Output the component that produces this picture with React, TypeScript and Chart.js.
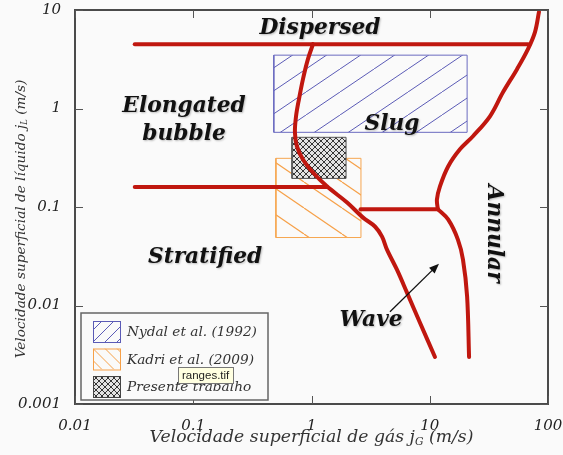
import { useEffect, useRef } from 'react';
import { Chart, registerables } from 'chart.js';

Chart.register(...registerables);

// ---- axis ticks ----
const X_TICKS = [0.01, 0.1, 1, 10, 100];
const X_TICK_LABELS = ['0.01', '0.1', '1', '10', '100'];
const Y_TICKS = [0.001, 0.01, 0.1, 1, 10];
const Y_TICK_LABELS = ['0.001', '0.01', '0.1', '1', '10'];

// ---- transition boundaries (jG, jL) ----
const DISPERSED_X = [0.032, 68];
const DISPERSED_Y = [4.5, 4.5];
const STRATIFIED_X = [0.032, 1.35];
const STRATIFIED_Y = [0.16, 0.16];
const WAVE_ANNULAR_X = [2.6, 11.7];
const WAVE_ANNULAR_Y = [0.095, 0.095];
const SLUG_CURVE_X = [1.03, 0.933, 0.847, 0.783, 0.74, 0.724, 0.753, 0.847, 1.03, 1.35, 2.0, 2.73, 3.44, 3.95, 4.35, 5.28, 6.42, 8.27, 11.07];
const SLUG_CURVE_Y = [4.5, 3.17, 1.99, 1.24, 0.834, 0.573, 0.413, 0.304, 0.224, 0.162, 0.111, 0.078, 0.0634, 0.05, 0.0369, 0.0231, 0.0135, 0.00667, 0.003];
const ANNULAR_UPPER_X = [83.9, 77.6, 67.7, 54.7, 41.6, 32.3, 23.2, 18.0, 14.3, 12.2, 11.5, 11.7];
const ANNULAR_UPPER_Y = [9.55, 5.97, 4.01, 2.51, 1.46, 0.834, 0.523, 0.385, 0.258, 0.162, 0.119, 0.095];
const ANNULAR_LOWER_X = [11.7, 14.3, 17.3, 19.1, 20.7, 21.5];
const ANNULAR_LOWER_Y = [0.095, 0.0747, 0.0467, 0.0292, 0.0123, 0.003];

// ---- experimental ranges [min, max] ----
const NYDAL_X = [0.48, 20.7];
const NYDAL_Y = [0.573, 3.48];
const KADRI_X = [0.5, 2.62];
const KADRI_Y = [0.049, 0.312];
const PRESENTE_X = [0.684, 1.96];
const PRESENTE_Y = [0.195, 0.51];

const LEGEND_LABELS = ['Nydal et al. (1992)', 'Kadri et al. (2009)', 'Presente trabalho'];

// ---- region labels ----
const REGION_LABELS = ['Dispersed', 'Elongated', 'bubble', 'Slug', 'Stratified', 'Wave', 'Annular'];
const REGION_X = [1.18, 0.0836, 0.0836, 4.8, 0.126, 3.19, 34.5];
const REGION_Y = [6.5, 1.05, 0.55, 0.69, 0.031, 0.007, 0.0537];
const REGION_ROT = [0, 0, 0, 0, 0, 0, 90];

const ARROW_X = [4.61, 11.97];
const ARROW_Y = [0.00863, 0.0266];

const X_TITLE = ['Velocidade superficial de gás j', 'G', ' (m/s)'];
const Y_TITLE = ['Velocidade superficial de líquido j', 'L', ' (m/s)'];

const RED = '#c0170f';
const SERIF = '"DejaVu Serif", serif';

function pts(xs: number[], ys: number[]) {
  return xs.map((x, i) => ({ x, y: ys[i] }));
}
function rectPts(xr: number[], yr: number[]) {
  return [
    { x: xr[0], y: yr[0] },
    { x: xr[1], y: yr[0] },
    { x: xr[1], y: yr[1] },
    { x: xr[0], y: yr[1] },
    { x: xr[0], y: yr[0] },
  ];
}

function makeHatch(w: number, h: number, color: string, lw: number, dir: 1 | -1) {
  const c = document.createElement('canvas');
  c.width = w;
  c.height = h;
  const g = c.getContext('2d')!;
  g.strokeStyle = color;
  g.lineWidth = lw;
  for (let k = -1; k <= 1; k++) {
    g.beginPath();
    if (dir === 1) {
      g.moveTo(k * w, h);
      g.lineTo(k * w + w, 0);
    } else {
      g.moveTo(k * w, 0);
      g.lineTo(k * w + w, h);
    }
    g.stroke();
  }
  return g.createPattern(c, 'repeat')!;
}

function makeCross() {
  const s = 6;
  const c = document.createElement('canvas');
  c.width = s;
  c.height = s;
  const g = c.getContext('2d')!;
  g.fillStyle = 'rgba(225,225,225,0.95)';
  g.fillRect(0, 0, s, s);
  g.strokeStyle = '#222';
  g.lineWidth = 0.9;
  for (let k = -1; k <= 1; k++) {
    g.beginPath();
    g.moveTo(k * s, s);
    g.lineTo(k * s + s, 0);
    g.stroke();
    g.beginPath();
    g.moveTo(k * s, 0);
    g.lineTo(k * s + s, s);
    g.stroke();
  }
  return g.createPattern(c, 'repeat')!;
}

function drawParts(ctx: CanvasRenderingContext2D, parts: string[], size: number, x: number, y: number) {
  const fMain = `italic ${size}px ${SERIF}`;
  const fSub = `italic ${size * 0.62}px ${SERIF}`;
  ctx.font = fMain;
  const w0 = ctx.measureText(parts[0]).width;
  const w2 = ctx.measureText(parts[2]).width;
  ctx.font = fSub;
  const w1 = ctx.measureText(parts[1]).width;
  const total = w0 + w1 + w2;
  let cx = x - total / 2;
  ctx.textAlign = 'left';
  ctx.textBaseline = 'alphabetic';
  ctx.font = fMain;
  ctx.fillText(parts[0], cx, y);
  cx += w0;
  ctx.font = fSub;
  ctx.fillText(parts[1], cx, y + size * 0.18);
  cx += w1;
  ctx.font = fMain;
  ctx.fillText(parts[2], cx, y);
}

function partsWidth(ctx: CanvasRenderingContext2D, parts: string[], size: number) {
  ctx.font = `italic ${size}px ${SERIF}`;
  const a = ctx.measureText(parts[0]).width + ctx.measureText(parts[2]).width;
  ctx.font = `italic ${size * 0.62}px ${SERIF}`;
  return a + ctx.measureText(parts[1]).width;
}

function zeroPad(s: any) {
  s.paddingTop = 0;
  s.paddingBottom = 0;
  s.paddingLeft = 0;
  s.paddingRight = 0;
}

export default function App() {
  const ref = useRef<HTMLCanvasElement>(null);

  useEffect(() => {
    const canvas = ref.current!;
    const bluePat = makeHatch(34, 23, '#5b5bb6', 1, 1);
    const orangePat = makeHatch(38, 26, '#f6a048', 1.2, -1);
    const crossPat = makeCross();

    const decor = {
      id: 'decor',
      beforeDraw(chart: any) {
        const { ctx, width, height } = chart;
        ctx.save();
        ctx.fillStyle = '#fafafa';
        ctx.fillRect(0, 0, width, height);
        ctx.restore();
      },
      afterDatasetsDraw(chart: any) {
        const ctx: CanvasRenderingContext2D = chart.ctx;
        const xs = chart.scales.x;
        const ys = chart.scales.y;
        const a = chart.chartArea;
        ctx.save();

        // arrow
        const ax0 = xs.getPixelForValue(ARROW_X[0]);
        const ay0 = ys.getPixelForValue(ARROW_Y[0]);
        const ax1 = xs.getPixelForValue(ARROW_X[1]);
        const ay1 = ys.getPixelForValue(ARROW_Y[1]);
        const ang = Math.atan2(ay1 - ay0, ax1 - ax0);
        ctx.strokeStyle = '#111';
        ctx.fillStyle = '#111';
        ctx.lineWidth = 1.3;
        ctx.beginPath();
        ctx.moveTo(ax0, ay0);
        ctx.lineTo(ax1 - 6 * Math.cos(ang), ay1 - 6 * Math.sin(ang));
        ctx.stroke();
        ctx.beginPath();
        ctx.moveTo(ax1, ay1);
        ctx.lineTo(ax1 - 10 * Math.cos(ang) + 4 * Math.sin(ang), ay1 - 10 * Math.sin(ang) - 4 * Math.cos(ang));
        ctx.lineTo(ax1 - 10 * Math.cos(ang) - 4 * Math.sin(ang), ay1 - 10 * Math.sin(ang) + 4 * Math.cos(ang));
        ctx.closePath();
        ctx.fill();

        // region labels
        ctx.font = `italic bold 20px ${SERIF}`;
        const fit = (20 * 121) / ctx.measureText(REGION_LABELS[0]).width;
        ctx.font = `italic bold ${fit}px ${SERIF}`;
        ctx.fillStyle = '#111';
        ctx.textAlign = 'center';
        ctx.textBaseline = 'middle';
        ctx.shadowColor = 'rgba(0,0,0,0.25)';
        ctx.shadowBlur = 2;
        ctx.shadowOffsetX = 1;
        ctx.shadowOffsetY = 1;
        REGION_LABELS.forEach((t, i) => {
          const px = xs.getPixelForValue(REGION_X[i]);
          const py = ys.getPixelForValue(REGION_Y[i]);
          ctx.save();
          ctx.translate(px, py);
          ctx.rotate((REGION_ROT[i] * Math.PI) / 180);
          ctx.fillText(t, 0, 0);
          ctx.restore();
        });
        ctx.shadowColor = 'transparent';
        ctx.shadowBlur = 0;
        ctx.shadowOffsetX = 0;
        ctx.shadowOffsetY = 0;

        // frame
        ctx.strokeStyle = '#4a4a4a';
        ctx.lineWidth = 2;
        ctx.strokeRect(a.left, a.top, a.right - a.left, a.bottom - a.top);

        // inward ticks on all sides
        ctx.lineWidth = 1;
        ctx.strokeStyle = '#555';
        X_TICKS.forEach((v) => {
          const px = Math.round(xs.getPixelForValue(v)) + 0.5;
          ctx.beginPath();
          ctx.moveTo(px, a.bottom);
          ctx.lineTo(px, a.bottom - 8);
          ctx.moveTo(px, a.top);
          ctx.lineTo(px, a.top + 8);
          ctx.stroke();
        });
        Y_TICKS.forEach((v) => {
          const py = Math.round(ys.getPixelForValue(v)) + 0.5;
          ctx.beginPath();
          ctx.moveTo(a.left, py);
          ctx.lineTo(a.left + 8, py);
          ctx.moveTo(a.right, py);
          ctx.lineTo(a.right - 8, py);
          ctx.stroke();
        });

        // legend
        const bx = a.left + 6;
        const by = a.bottom - 91;
        const bw = 187;
        const bh = 87;
        ctx.fillStyle = '#fafafa';
        ctx.fillRect(bx, by, bw, bh);
        ctx.strokeStyle = '#666';
        ctx.lineWidth = 1.5;
        ctx.strokeRect(bx, by, bw, bh);
        ctx.font = `italic 13px ${SERIF}`;
        const lsize = (13 * 130) / ctx.measureText(LEGEND_LABELS[0]).width;
        const swCols = ['#5b5bb6', '#f6a048', '#444'];
        LEGEND_LABELS.forEach((t, i) => {
          const sx = bx + 12;
          const sy = by + 8 + i * 27.5;
          const sw = 27;
          const sh = 21;
          ctx.save();
          ctx.beginPath();
          ctx.rect(sx, sy, sw, sh);
          ctx.clip();
          if (i === 2) {
            ctx.fillStyle = crossPat;
            ctx.fillRect(sx, sy, sw, sh);
          } else {
            ctx.strokeStyle = swCols[i];
            ctx.lineWidth = 1;
            for (let k = -2; k <= 3; k++) {
              ctx.beginPath();
              if (i === 0) {
                ctx.moveTo(sx + k * 12, sy + sh);
                ctx.lineTo(sx + k * 12 + sh, sy);
              } else {
                ctx.moveTo(sx + k * 12, sy);
                ctx.lineTo(sx + k * 12 + sh, sy + sh);
              }
              ctx.stroke();
            }
          }
          ctx.restore();
          ctx.strokeStyle = swCols[i];
          ctx.lineWidth = 1;
          ctx.strokeRect(sx + 0.5, sy + 0.5, sw, sh);
          ctx.fillStyle = '#333';
          ctx.font = `italic ${lsize}px ${SERIF}`;
          ctx.textAlign = 'left';
          ctx.textBaseline = 'middle';
          ctx.fillText(t, bx + 46, sy + sh / 2 + 1);
        });

        // screenshot tooltip
        const tx = bx + 97;
        const ty = by + 54;
        ctx.fillStyle = '#ffffe1';
        ctx.fillRect(tx, ty, 55, 16);
        ctx.strokeStyle = '#777';
        ctx.lineWidth = 1;
        ctx.strokeRect(tx + 0.5, ty + 0.5, 55, 16);
        ctx.fillStyle = '#222';
        ctx.font = '11.5px "Liberation Sans", sans-serif';
        ctx.textAlign = 'left';
        ctx.textBaseline = 'middle';
        ctx.fillText('ranges.tif', tx + 4, ty + 8.5);

        ctx.restore();
      },
      afterDraw(chart: any) {
        const ctx: CanvasRenderingContext2D = chart.ctx;
        const a = chart.chartArea;
        ctx.save();
        ctx.fillStyle = '#333';
        const xs = (15 * 324) / partsWidth(ctx, X_TITLE, 15);
        drawParts(ctx, X_TITLE, xs, (a.left + a.right) / 2, a.bottom + 38);
        const ysz = (13 * 279) / partsWidth(ctx, Y_TITLE, 13);
        ctx.translate(25, (a.top + a.bottom) / 2 + 12);
        ctx.rotate(-Math.PI / 2);
        drawParts(ctx, Y_TITLE, ysz, 0, 0);
        ctx.restore();
      },
    };

    const redLine = (data: any[], tension: number) => ({
      data,
      borderColor: RED,
      borderWidth: 4,
      pointRadius: 0,
      tension,
      fill: false,
      borderCapStyle: 'round',
      borderJoinStyle: 'round',
    });
    const box = (data: any[], pat: any, border: string) => ({
      data,
      borderColor: border,
      borderWidth: 1,
      pointRadius: 0,
      tension: 0,
      fill: 'shape',
      backgroundColor: pat,
    });

    const chart = new Chart(canvas, {
      type: 'line',
      data: {
        datasets: [
          redLine(pts(DISPERSED_X, DISPERSED_Y), 0),
          redLine(pts(STRATIFIED_X, STRATIFIED_Y), 0),
          redLine(pts(WAVE_ANNULAR_X, WAVE_ANNULAR_Y), 0),
          redLine(pts(SLUG_CURVE_X, SLUG_CURVE_Y), 0.35),
          redLine(pts(ANNULAR_UPPER_X, ANNULAR_UPPER_Y), 0.35),
          redLine(pts(ANNULAR_LOWER_X, ANNULAR_LOWER_Y), 0.35),
          box(rectPts(PRESENTE_X, PRESENTE_Y), crossPat, '#555'),
          box(rectPts(KADRI_X, KADRI_Y), orangePat, '#f6a650'),
          box(rectPts(NYDAL_X, NYDAL_Y), bluePat, '#6a6ac0'),
        ] as any,
      },
      options: {
        animation: false,
        responsive: false,
        maintainAspectRatio: false,
        events: [],
        layout: { padding: { top: 10, right: 15, left: 0, bottom: 0 } },
        plugins: {
          legend: { display: false },
          tooltip: { enabled: false },
          title: { display: false },
        },
        scales: {
          x: {
            type: 'logarithmic',
            position: 'bottom',
            min: 0.01,
            max: 100,
            afterBuildTicks: (s: any) => {
              s.ticks = X_TICKS.map((value) => ({ value }));
            },
            afterFit: (s: any) => {
              s.height = 51;
              zeroPad(s);
            },
            ticks: {
              autoSkip: false,
              maxRotation: 0,
              minRotation: 0,
              padding: 5,
              color: '#222',
              font: { family: SERIF, style: 'italic', size: 15 },
              callback: (_v: any, i: number) => X_TICK_LABELS[i],
            },
            grid: { display: false },
            border: { display: false },
          },
          y: {
            type: 'logarithmic',
            position: 'left',
            min: 0.001,
            max: 10,
            afterBuildTicks: (s: any) => {
              s.ticks = Y_TICKS.map((value) => ({ value }));
            },
            afterFit: (s: any) => {
              s.width = 75;
              zeroPad(s);
            },
            ticks: {
              autoSkip: false,
              padding: 6,
              color: '#222',
              font: { family: SERIF, style: 'italic', size: 15 },
              callback: (_v: any, i: number) => Y_TICK_LABELS[i],
            },
            grid: { display: false },
            border: { display: false },
          },
        },
      } as any,
      plugins: [decor],
    });
    return () => chart.destroy();
  }, []);

  return (
    <div style={{ position: 'fixed', left: 0, top: 0, width: 563, height: 455 }}>
      <canvas ref={ref} width={563} height={455} style={{ display: 'block' }} />
    </div>
  );
}
